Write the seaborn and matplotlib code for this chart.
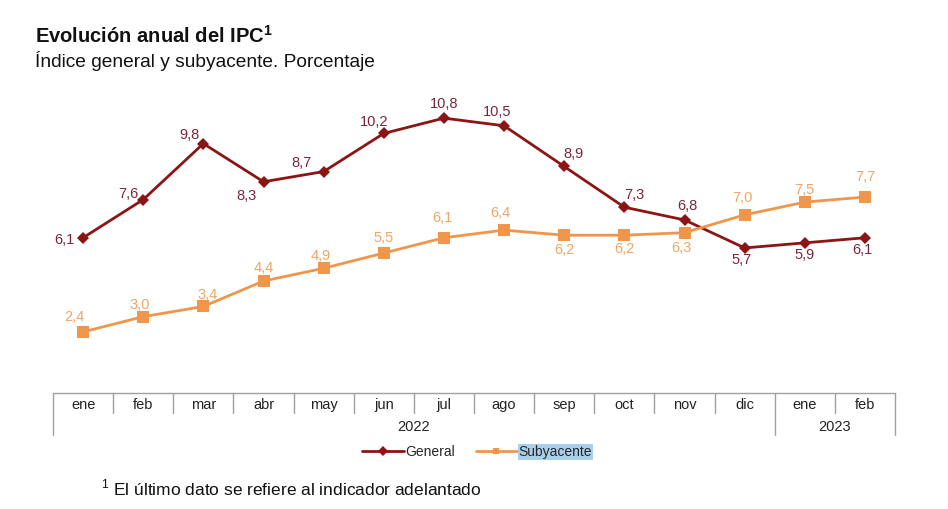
import pandas as pd
import matplotlib.pyplot as plt
import seaborn as sns

# Datos
meses = ["ene", "feb", "mar", "abr", "may", "jun", "jul", "ago", "sep", "oct", "nov", "dic", "ene", "feb"]
anios = ["2022", "2023"]
general = [6.1, 7.6, 9.8, 8.3, 8.7, 10.2, 10.8, 10.5, 8.9, 7.3, 6.8, 5.7, 5.9, 6.1]
subyacente = [2.4, 3.0, 3.4, 4.4, 4.9, 5.5, 6.1, 6.4, 6.2, 6.2, 6.3, 7.0, 7.5, 7.7]

# Desplazamiento de etiquetas (pixeles)
off_general = [(-19, -2), (-15, 6), (-14, 9), (-17, -14), (-22, 9), (-10, 11), (0, 14),
               (-7, 14), (9, 12), (10, 12), (3, 14), (-3, -12), (0, -12), (-3, -12)]
off_sub = [(-9, 15), (-4, 12), (4, 11), (0, 13), (-3, 12), (0, 15), (-2, 20),
           (-4, 17), (0, -15), (0, -14), (-3, -15), (-2, 17), (0, 12), (0, 20)]

C_GEN, C_GEN_TXT = "#8B1515", "#7B2638"
C_SUB, C_SUB_TXT = "#F0964C", "#F0A566"
C_BOX = "#A0A0A0"

sns.set_style("white")
plt.rcParams["font.family"] = ["Liberation Sans", "DejaVu Sans"]
plt.rcParams["mathtext.fontset"] = "custom"
plt.rcParams["mathtext.rm"] = "Liberation Sans"
plt.rcParams["mathtext.bf"] = "Liberation Sans:bold"

n = len(meses)
df = pd.DataFrame({
    "pos": list(range(n)) * 2,
    "valor": general + subyacente,
    "serie": ["General"] * n + ["Subyacente"] * n,
})

W, H = 948, 509
fig = plt.figure(figsize=(W / 100, H / 100), dpi=100)
ax_bottom, ax_top = 393, 87.6
ax = fig.add_axes([53 / W, 1 - ax_bottom / H, 842 / W, (ax_bottom - ax_top) / H])

sns.lineplot(data=df, x="pos", y="valor", hue="serie", style="serie",
             palette={"General": C_GEN, "Subyacente": C_SUB},
             markers={"General": "D", "Subyacente": "s"}, dashes=False,
             linewidth=2, markeredgewidth=0, legend=False, ax=ax)
ax.lines[0].set_markersize(6)
ax.lines[1].set_markersize(8)

for i in range(n):
    ax.annotate(f"{general[i]:.1f}".replace(".", ","), (i, general[i]),
                xytext=off_general[i], textcoords="offset pixels",
                ha="center", va="center", fontsize=10.5, color=C_GEN_TXT)
    ax.annotate(f"{subyacente[i]:.1f}".replace(".", ","), (i, subyacente[i]),
                xytext=off_sub[i], textcoords="offset pixels",
                ha="center", va="center", fontsize=10.5, color=C_SUB_TXT)

ax.set_xlim(-0.5, n - 0.5)
ax.set_ylim(0, 12)
ax.set_xticks([])
ax.set_yticks([])
ax.set_xlabel("")
ax.set_ylabel("")
for s in ax.spines.values():
    s.set_visible(False)

# Tabla del eje x
h_ax = ax_bottom - ax_top
def fy(px):
    return -(px - ax_bottom) / h_ax
tr = ax.get_xaxis_transform()
y_top, y_mes, y_fin = fy(393), fy(413), fy(435)
ax.plot([-0.5, n - 0.5], [y_top, y_top], color=C_BOX, lw=1, transform=tr, clip_on=False)
for i in range(n + 1):
    x = i - 0.5
    full = i in (0, 12, n)
    ax.plot([x, x], [y_top, y_fin if full else y_mes], color=C_BOX, lw=1,
            transform=tr, clip_on=False)
for i, m in enumerate(meses):
    ax.text(i, fy(405), m, transform=tr, ha="center", va="center", fontsize=10.5, color="#222222")
ax.text(5.5, fy(427), anios[0], transform=tr, ha="center", va="center", fontsize=10.5, color="#222222")
ax.text(12.5, fy(427), anios[1], transform=tr, ha="center", va="center", fontsize=10.5, color="#222222")

leg = fig.legend(handles=ax.lines[:2], labels=["General", "Subyacente"], loc="center",
                 bbox_to_anchor=(477 / W, 1 - 452 / H), ncol=2, frameon=False,
                 fontsize=10, handlelength=3, handletextpad=0.1, columnspacing=1.5,
                 numpoints=1)
for h in leg.legend_handles:
    h.set_markersize(5)
leg.get_texts()[1].set_bbox(dict(facecolor="#A9CFEA", edgecolor="none", pad=0.5))

fig.text(35 / W, 1 - 36 / H, "Evolución anual del IPC$^{\\mathbf{1}}$", fontsize=14.5,
         fontweight="bold", ha="left", va="center", color="#111111")
fig.text(35 / W, 1 - 61 / H, "Índice general y subyacente. Porcentaje", fontsize=13.8,
         ha="left", va="center", color="#111111")
fig.text(101 / W, 1 - 488 / H, "$^{1}$ El último dato se refiere al indicador adelantado",
         fontsize=12.5, ha="left", va="center", color="#111111")

fig.savefig("out.png", dpi=100)
